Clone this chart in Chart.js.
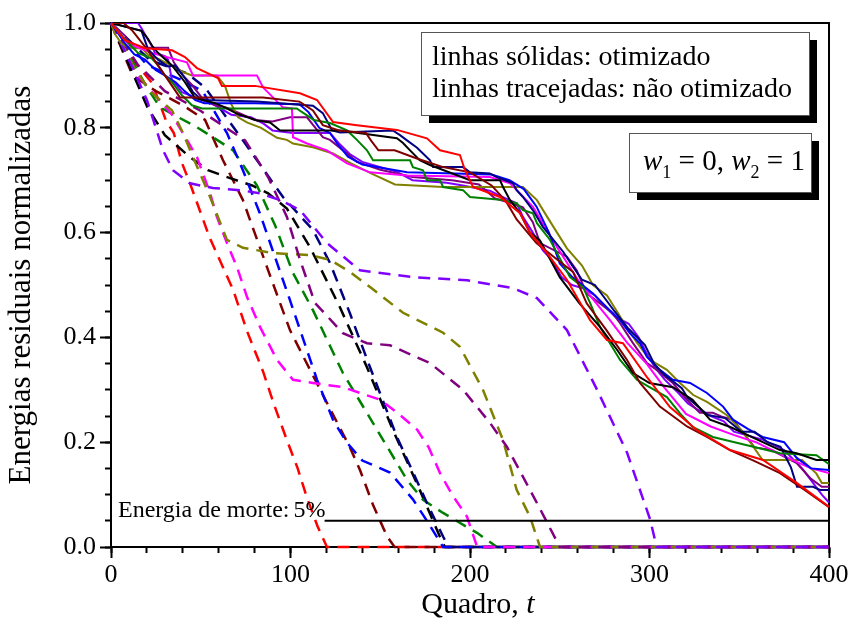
<!DOCTYPE html>
<html>
<head>
<meta charset="utf-8">
<script src="https://cdn.jsdelivr.net/npm/chart.js@4"></script>
<style>html,body{margin:0;background:#fff}</style>
</head>
<body>
<canvas id="c" width="851" height="621"></canvas>
<script>
const FONT = "'Liberation Serif', 'Times New Roman', serif";

// colours shared by solid (otimizado) and dashed (não otimizado) runs
const colors = ['#ff0000', '#800000', '#000000', '#008000', '#000080', '#0000ff', '#ff00ff', '#808000', '#800080', '#8000ff'];

// solid lines: [quadro, energia]
const redSolid = [[0,1],[7.8,0.967],[18.9,0.952],[34,0.948],[41.2,0.935],[47.9,0.914],[59.6,0.895],[61.8,0.88],[80.2,0.88],[105.3,0.866],[114.8,0.853],[123.7,0.811],[137,0.805],[159.3,0.796],[176,0.78],[183.3,0.757],[194.4,0.748],[197.2,0.719],[201.7,0.687],[216.7,0.668],[227.9,0.637],[233.4,0.6],[242.9,0.561],[254,0.51],[266.9,0.433],[276.3,0.395],[285.2,0.389],[298.6,0.324],[311.4,0.267],[326.5,0.223],[344.9,0.185],[363.2,0.166],[382.2,0.122],[400,0.077]];
const brownSolid = [[0,1],[7,1],[12,0.985],[20,0.95],[30,0.9],[38.4,0.858],[84.7,0.858],[105,0.85],[112.5,0.833],[118,0.805],[127,0.795],[142,0.79],[145,0.775],[149,0.757],[158,0.757],[170,0.742],[185,0.725],[200,0.715],[212,0.69],[220,0.66],[226,0.625],[237,0.58],[248,0.55],[257.4,0.525],[265,0.465],[276,0.414],[287.5,0.357],[294.7,0.313],[305.8,0.268],[320.9,0.23],[332,0.21],[344.8,0.185],[358,0.165],[372.7,0.141],[386,0.11],[400,0.076]];
const blackSolid = [[0,1],[17,0.985],[20.6,0.97],[22.8,0.957],[26.2,0.943],[34,0.919],[41.2,0.887],[46.8,0.857],[58,0.847],[63.5,0.839],[70,0.827],[81.3,0.814],[88.6,0.81],[94.2,0.795],[110,0.795],[127.6,0.795],[159.3,0.78],[162.7,0.771],[166.6,0.757],[172,0.738],[177.7,0.729],[200,0.7],[216.7,0.7],[218.4,0.687],[222.3,0.662],[227.9,0.637],[233.4,0.6],[239,0.585],[250,0.515],[261,0.465],[272.4,0.42],[282,0.376],[290.8,0.332],[300,0.313],[313,0.305],[324,0.281],[333.7,0.243],[345,0.229],[372.7,0.185],[382,0.179],[393,0.166],[400,0.166]];
const greenSolid = [[0,1],[6.1,0.975],[9.5,0.963],[15,0.943],[22.8,0.932],[26.2,0.919],[30,0.9],[34,0.887],[39.5,0.862],[45.1,0.843],[50.7,0.837],[80.2,0.837],[103.4,0.837],[113,0.815],[122,0.809],[131.5,0.795],[137,0.777],[142.6,0.757],[146,0.738],[166.6,0.738],[168.2,0.725],[173.8,0.719],[176,0.7],[183.3,0.7],[185,0.687],[196.1,0.681],[200,0.668],[218.4,0.662],[226,0.656],[229.5,0.643],[235,0.637],[237.3,0.618],[244.6,0.586],[255.7,0.515],[263,0.496],[267,0.465],[272.4,0.42],[283.6,0.357],[293,0.319],[300,0.305],[309.7,0.286],[317,0.255],[324,0.229],[335.3,0.21],[372.7,0.179],[393,0.175],[400,0.158]];
const navySolid = [[0,1],[17,0.985],[20.6,0.95],[26.2,0.93],[31.8,0.917],[35.7,0.919],[41.2,0.895],[45.7,0.868],[50.7,0.853],[81.3,0.85],[112.5,0.842],[118,0.828],[123.2,0.795],[127.6,0.791],[157,0.795],[161,0.786],[164.9,0.776],[170.5,0.762],[173.8,0.751],[177.7,0.738],[179.4,0.725],[196.1,0.725],[200,0.715],[211,0.713],[214.8,0.706],[223.9,0.694],[226,0.681],[229.5,0.668],[235,0.643],[240.6,0.611],[252,0.563],[256.8,0.538],[262.4,0.51],[269.6,0.5],[280.7,0.449],[287.9,0.418],[297.4,0.386],[303,0.347],[308.6,0.328],[318,0.303],[321.4,0.284],[332.6,0.252],[342.1,0.246],[351.3,0.22],[358.5,0.22],[365.8,0.2],[373,0.191],[378.8,0.152],[382.2,0.115],[391.1,0.115],[395,0.109],[400,0.109]];
const blueSolid = [[0,1],[4,0.98],[8,0.96],[13,0.94],[19,0.93],[25,0.91],[30,0.9],[36,0.887],[41,0.87],[47,0.853],[52,0.847],[80,0.847],[105,0.845],[110,0.83],[116,0.8],[122,0.79],[126,0.77],[132,0.745],[140,0.73],[165,0.715],[212,0.711],[222,0.7],[230,0.683],[237,0.65],[244,0.6],[250,0.541],[257,0.515],[268.5,0.484],[276,0.458],[283.6,0.433],[289,0.408],[294.7,0.389],[298.6,0.363],[305.8,0.338],[313,0.319],[322.6,0.313],[332,0.294],[341,0.268],[346.5,0.243],[355,0.225],[363,0.21],[375,0.2],[382,0.17],[390,0.15],[400,0.147]];
const magentaSolid = [[0,1],[10,0.96],[23.4,0.942],[42.3,0.925],[45.7,0.9],[81.3,0.9],[84.7,0.877],[95.8,0.839],[100.8,0.837],[101.4,0.782],[109.2,0.77],[120.3,0.757],[131.5,0.732],[144.3,0.715],[164.9,0.709],[211.1,0.706],[222.3,0.694],[235.1,0.649],[248.5,0.572],[262,0.5],[278,0.433],[287.5,0.39],[298.6,0.349],[308.1,0.305],[320.3,0.254],[334.1,0.23],[346.8,0.214],[359.3,0.2],[378.3,0.168],[390,0.15],[400,0.141]];
const oliveSolid = [[0,1],[2,0.98],[6,0.96],[11.7,0.952],[17.3,0.952],[20.6,0.939],[26.2,0.932],[41.2,0.905],[45.1,0.9],[59,0.9],[63.5,0.88],[67,0.845],[70.8,0.82],[76,0.81],[83.6,0.8],[92.5,0.781],[98,0.777],[101.4,0.77],[112.5,0.763],[123.7,0.751],[133.7,0.732],[144.9,0.713],[158.2,0.692],[185,0.687],[229.5,0.687],[237.3,0.662],[243,0.63],[248.5,0.6],[254,0.57],[262.4,0.537],[268.5,0.5],[276.3,0.48],[282,0.449],[287.5,0.418],[293,0.39],[300.3,0.357],[309.7,0.338],[317,0.313],[324.4,0.29],[332,0.277],[343,0.252],[352,0.22],[363,0.166],[385,0.166],[393,0.14],[396,0.122],[400,0.122]];
const purpleSolid = [[0,1],[8,0.975],[11.7,0.953],[13.4,0.953],[31.8,0.953],[35,0.925],[40.1,0.9],[45.1,0.882],[50.7,0.857],[58,0.843],[65,0.838],[80,0.815],[90,0.812],[99.7,0.82],[109.2,0.82],[118,0.782],[122,0.777],[130,0.755],[137,0.735],[150,0.72],[168,0.706],[190,0.7],[205,0.692],[214,0.665],[222.3,0.657],[229.5,0.648],[235,0.62],[239,0.58],[254,0.554],[259.4,0.528],[265,0.484],[272.4,0.465],[279.5,0.446],[283.6,0.427],[290.8,0.389],[298.6,0.351],[304,0.338],[313,0.313],[320.9,0.281],[328,0.256],[335.3,0.256],[340.9,0.248],[346.5,0.243],[358.5,0.19],[368,0.185],[382,0.16],[390,0.13],[396,0.115],[400,0.115]];
const violetSolid = [[0,1],[15,1],[17,0.99],[20.6,0.968],[22.8,0.956],[24.5,0.943],[30,0.937],[31.8,0.93],[34,0.89],[35.7,0.885],[39.5,0.868],[48.5,0.856],[58,0.843],[67,0.825],[78,0.82],[85,0.808],[90,0.795],[101.4,0.79],[122,0.79],[127.6,0.768],[133,0.75],[140,0.735],[159.3,0.716],[168,0.7],[187,0.695],[196,0.69],[211,0.68],[218,0.668],[226,0.656],[229.5,0.63],[235,0.6],[240.6,0.566],[245.6,0.548],[251,0.515],[256.8,0.5],[263.5,0.493],[269.6,0.48],[275,0.46],[280.7,0.44],[288.4,0.426],[294,0.4],[297.4,0.376],[302.9,0.343],[308.6,0.319],[316.4,0.293],[321.4,0.274],[326.8,0.262],[334.1,0.25],[341.4,0.24],[347,0.22],[363,0.205],[375,0.185],[385,0.15],[396,0.1],[400,0.085]];

// dashed lines
const redDash = [[0,1],[12,0.93],[23,0.885],[30.6,0.814],[35,0.79],[39.5,0.733],[44,0.694],[55,0.59],[68,0.491],[76,0.41],[84.7,0.335],[91,0.27],[98,0.204],[104,0.15],[109,0.096],[115,0.04],[120.3,0],[400,0]];
const brownDash = [[0,1],[12,0.9],[25,0.87],[40,0.843],[52.4,0.815],[62.4,0.738],[73.5,0.662],[86.9,0.534],[99.7,0.414],[110.9,0.338],[120.3,0.275],[133,0.191],[138.7,0.147],[146,0.08],[153.8,0.02],[158,0],[400,0]];
const blackDash = [[0,1],[20.6,0.837],[30,0.786],[44,0.744],[54,0.719],[66.3,0.704],[78.6,0.69],[87.5,0.675],[98,0.646],[110.9,0.572],[127.6,0.457],[142.6,0.343],[157.1,0.223],[172,0.109],[183.3,0.019],[186,0],[400,0]];
const greenDash = [[0,1],[20,0.877],[27.3,0.839],[47.9,0.801],[56.8,0.782],[68,0.757],[81.3,0.69],[91.4,0.614],[101.4,0.523],[112.5,0.452],[129.2,0.332],[145.9,0.237],[164.9,0.128],[173.8,0.09],[185,0.065],[203.9,0.027],[215,0],[400,0]];
const navyDash = [[0,1],[21.7,0.929],[42.3,0.904],[52.4,0.877],[73.5,0.776],[95.8,0.668],[112.5,0.605],[122,0.542],[133.1,0.446],[144.3,0.343],[159.3,0.21],[176,0.084],[185,0.02],[188,0],[400,0]];
const blueDash = [[0,1],[20,0.92],[40,0.89],[51,0.87],[64.6,0.79],[73.5,0.719],[82.9,0.637],[99.7,0.471],[114.8,0.319],[124,0.24],[131.5,0.199],[140,0.165],[148.2,0.153],[155.4,0.142],[168.2,0.091],[176,0.05],[185,0],[400,0]];
const magentaDash = [[0,1],[15,0.9],[34,0.825],[47.9,0.744],[55.2,0.675],[59,0.63],[64.6,0.58],[70.2,0.534],[75.8,0.477],[83,0.42],[92.5,0.357],[101.4,0.319],[112.5,0.313],[129.2,0.305],[149.9,0.281],[160,0.255],[170.5,0.224],[177,0.19],[183.3,0.141],[190,0.1],[198.3,0.058],[204,0],[400,0]];
const oliveDash = [[0,1],[12,0.92],[21.7,0.87],[34,0.833],[40.1,0.79],[45.7,0.744],[55.2,0.668],[64.6,0.586],[73.5,0.571],[90.3,0.561],[110.9,0.557],[122,0.548],[133.1,0.525],[144.3,0.496],[162.7,0.447],[185,0.409],[194.4,0.382],[207.2,0.3],[218.4,0.204],[226,0.109],[233.4,0.058],[239,0],[400,0]];
const purpleDash = [[0,1],[15,0.92],[30,0.87],[49.6,0.833],[74.7,0.776],[87.5,0.706],[98,0.63],[105.3,0.548],[113.6,0.466],[129.2,0.408],[142.6,0.389],[155.4,0.385],[177.7,0.351],[196.1,0.3],[211.1,0.237],[220.6,0.191],[237.3,0.084],[250,0],[400,0]];
const violetDash = [[0,1],[6.7,0.953],[12.3,0.913],[20.1,0.852],[29,0.757],[34.5,0.719],[44,0.694],[56.8,0.685],[71.9,0.681],[83,0.675],[94.2,0.662],[105.3,0.643],[120.3,0.58],[138.7,0.528],[168.2,0.515],[198.3,0.509],[223.9,0.494],[237.3,0.475],[254,0.414],[270.8,0.3],[287.5,0.18],[300.3,0.053],[304,0],[400,0]];

const deathLine = [[119,0.05],[400,0.05]];

const solids = [redSolid, brownSolid, blackSolid, greenSolid, navySolid, blueSolid, magentaSolid, oliveSolid, purpleSolid, violetSolid];
const dashes = [redDash, brownDash, blackDash, greenDash, navyDash, blueDash, magentaDash, oliveDash, purpleDash, violetDash];

const xTicksMajor = [0, 100, 200, 300, 400];
const yTicksMajor = [0, 0.2, 0.4, 0.6, 0.8, 1.0];

const toPts = (arr) => arr.map(([x, y]) => ({ x, y }));

// Chart.js paints the first dataset on top, so later runs go first here
const datasets = [];
datasets.push({ data: toPts(deathLine), borderColor: '#000', borderWidth: 2 });
solids.forEach((s, i) => datasets.push({ data: toPts(s), borderColor: colors[i], borderWidth: 2 }));
dashes.map((s, i) => ({ data: toPts(s), borderColor: colors[i], borderWidth: 2.5, borderDash: [12, 8], clip: 4 }))
  .reverse()
  .forEach((d) => datasets.push(d));

function box(ctx, x, y, w, h) {
  ctx.fillStyle = '#000';
  ctx.fillRect(x + 8, y + 8, w, h);
  ctx.fillStyle = '#fff';
  ctx.fillRect(x, y, w, h);
  ctx.strokeStyle = '#555';
  ctx.lineWidth = 1;
  ctx.strokeRect(x + 0.5, y + 0.5, w, h);
}

const overlay = {
  id: 'overlay',
  beforeDatasetsDraw(chart) {
    const { ctx, chartArea: a } = chart;
    ctx.save();
    ctx.strokeStyle = '#000';
    ctx.lineWidth = 2;
    ctx.strokeRect(a.left, a.top, a.right - a.left, a.bottom - a.top);
    ctx.restore();
  },
  afterDraw(chart) {
    const { ctx } = chart;
    ctx.save();
    ctx.fillStyle = '#000';
    ctx.textBaseline = 'alphabetic';

    box(ctx, 421, 32, 388, 83);
    ctx.fillStyle = '#000';
    ctx.font = `28px ${FONT}`;
    ctx.fillText('linhas sólidas: otimizado', 432, 65);
    ctx.fillText('linhas tracejadas: não otimizado', 432, 97);

    box(ctx, 629, 133, 182, 59);
    ctx.fillStyle = '#000';
    let x = 643;
    const parts = [
      ['italic 29px', 'w', 170], ['18px', '1', 178], ['29px', ' = 0, ', 170],
      ['italic 29px', 'w', 170], ['18px', '2', 178], ['29px', ' = 1', 170],
    ];
    for (const [f, t, by] of parts) {
      ctx.font = `${f} ${FONT}`;
      ctx.fillText(t, x, by);
      x += ctx.measureText(t).width;
    }

    ctx.font = `24px ${FONT}`;
    ctx.fillText('Energia de morte:', 118, 517);
    ctx.fillText('5%', 118 + ctx.measureText('Energia de morte:').width + 4, 517);

    ctx.font = `30px ${FONT}`;
    const q = 'Quadro, ';
    const qw = ctx.measureText(q).width;
    ctx.font = `italic 30px ${FONT}`;
    const tw = ctx.measureText('t').width;
    const sx = 478 - (qw + tw) / 2;
    ctx.font = `30px ${FONT}`;
    ctx.fillText(q, sx, 613);
    ctx.font = `italic 30px ${FONT}`;
    ctx.fillText('t', sx + qw, 613);
    ctx.restore();
  }
};

const tickFont = { family: FONT, size: 26 };

new Chart(document.getElementById('c'), {
  type: 'line',
  data: { datasets },
  options: {
    responsive: false,
    animation: false,
    layout: { padding: { left: 0, right: 22, top: 23, bottom: 0 } },
    elements: { point: { radius: 0 }, line: { tension: 0 } },
    plugins: { legend: { display: false }, tooltip: { enabled: false } },
    scales: {
      x: {
        type: 'linear', position: 'bottom', min: 0, max: 400, weight: 1,
        afterBuildTicks: (s) => { s.ticks = xTicksMajor.map((v) => ({ value: v })); },
        ticks: { font: tickFont, color: '#000', padding: 2, autoSkip: false, maxRotation: 0 },
        grid: { drawOnChartArea: false, tickLength: 11, tickWidth: 2, tickColor: '#000' },
        border: { display: true, color: '#000', width: 2 },
        afterFit: (s) => { s.height = 74; },
      },
      xMinor: {
        type: 'linear', position: 'bottom', min: 0, max: 400, weight: 0,
        ticks: { stepSize: 20, display: false, autoSkip: false },
        grid: { drawOnChartArea: false, tickLength: 6, tickWidth: 2, tickColor: '#000' },
        border: { display: false },
        afterFit: (s) => { s.height = 0; },
      },
      y: {
        type: 'linear', position: 'left', min: 0, max: 1, weight: 1,
        afterBuildTicks: (s) => { s.ticks = yTicksMajor.map((v) => ({ value: v })); },
        ticks: { font: tickFont, color: '#000', padding: 4, autoSkip: false, callback: (v) => v.toFixed(1) },
        grid: { drawOnChartArea: false, tickLength: 11, tickWidth: 2, tickColor: '#000' },
        border: { display: true, color: '#000', width: 2 },
        title: { display: true, text: 'Energias residuais normalizadas', color: '#000', font: { family: FONT, size: 31 }, padding: { top: 3, bottom: 0 } },
        afterFit: (s) => { s.width = 111; },
      },
      yMinor: {
        type: 'linear', position: 'left', min: 0, max: 1, weight: 0,
        ticks: { stepSize: 0.05, display: false, autoSkip: false },
        grid: { drawOnChartArea: false, tickLength: 6, tickWidth: 2, tickColor: '#000' },
        border: { display: false },
        afterFit: (s) => { s.width = 0; },
      },
    },
  },
  plugins: [overlay],
});
</script>
</body>
</html>
